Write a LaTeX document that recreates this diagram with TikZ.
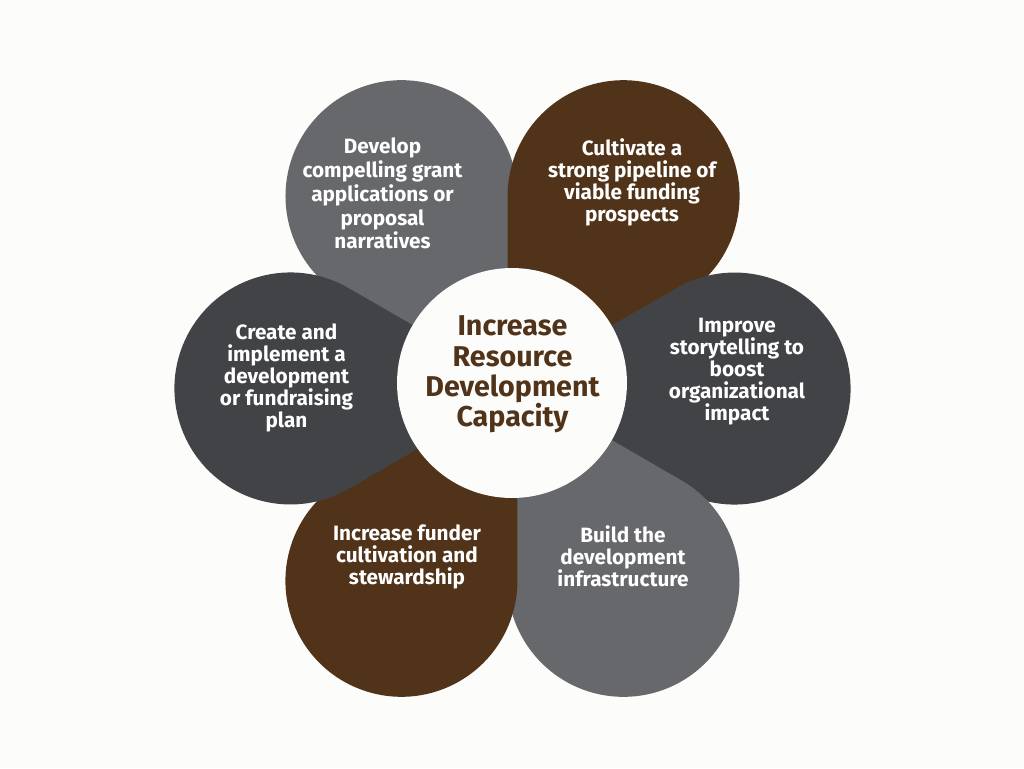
\documentclass[tikz,border=0pt]{standalone}
\usepackage{fontspec}
\setmainfont{Fira Sans}
\definecolor{petalgray}{HTML}{67686B}
\definecolor{petalbrown}{HTML}{51331A}
\definecolor{petaldark}{HTML}{424347}
\definecolor{bgwhite}{HTML}{FCFCFA}
\begin{document}
\begin{tikzpicture}[
  x=0.02cm, y=0.02cm,
  petal/.style={fill=#1},
  petaltext/.style={text=white, align=center, font=\bfseries\fontsize{11.8}{12.5}\selectfont},
  hub/.style={circle, fill=bgwhite, minimum size=4.6cm, inner sep=0pt},
  hubtext/.style={text=petalbrown, align=center, font=\bfseries\fontsize{16.3}{17.2}\selectfont}
]

% --- Background ---
\fill[bgwhite] (-512.5,-379.5) rectangle (511.5,388.5);

% --- Petals ---
\fill[petal=petalgray] (300:10) -- ++(90:201) arc[start angle=0, end angle=240, radius=116] -- cycle;
\fill[petal=petalbrown] (240:10) -- ++(30:201) arc[start angle=-60, end angle=180, radius=116] -- cycle;
\fill[petal=petaldark] (180:10) -- ++(-30:201) arc[start angle=-120, end angle=120, radius=116] -- cycle;
\fill[petal=petalgray] (120:10) -- ++(-90:201) arc[start angle=-180, end angle=60, radius=116] -- cycle;
\fill[petal=petalbrown] (60:10) -- ++(-150:201) arc[start angle=-240, end angle=0, radius=116] -- cycle;
\fill[petal=petaldark] (0:10) -- ++(150:201) arc[start angle=60, end angle=300, radius=116] -- cycle;

% --- Petal texts ---
\node[petaltext, font=\bfseries\fontsize{11.8}{13.6}\selectfont] (grant) at (-130,195) {Develop\\compelling grant\\applications or\\proposal\\narratives};
\node[petaltext] (pipeline) at (119.5,206) {Cultivate a\\strong pipeline of\\viable funding\\prospects};
\node[petaltext] (story) at (224.5,16.5) {Improve\\storytelling to\\boost\\organizational\\impact};
\node[petaltext] (infra) at (110.5,-168) {Build the\\development\\infrastructure};
\node[petaltext] (steward) at (-105.5,-168) {Increase funder\\cultivation and\\stewardship};
\node[petaltext] (plan) at (-226,10.5) {Create and\\implement a\\development\\or fundraising\\plan};

% --- Hub ---
\node[hub] (hub) at (-0.5,5.5) {};
\node[hubtext] (goal) at (0,14) {Increase\\Resource\\Development\\Capacity};

\end{tikzpicture}
\end{document}
